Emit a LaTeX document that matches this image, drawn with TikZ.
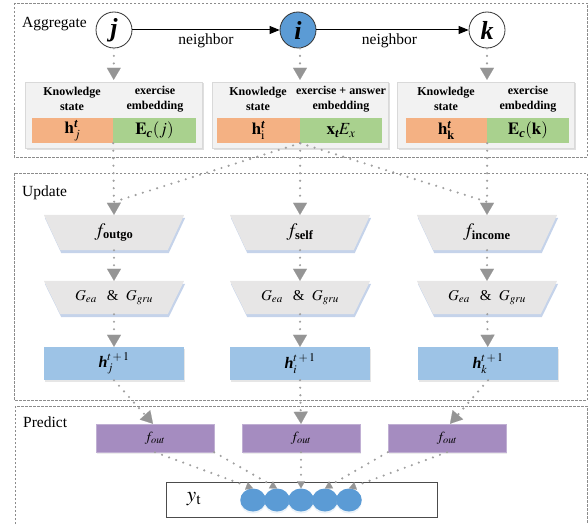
\documentclass[tikz,border=0pt]{standalone}
\usepackage{mathptmx}
\usepackage{amsmath}
\usepackage[no-math]{fontspec}
\setmainfont{Liberation Serif}
\usetikzlibrary{arrows.meta,shadows,backgrounds,calc,shapes.geometric}
\definecolor{orangec}{HTML}{F4B183}
\definecolor{greenc}{HTML}{A9D18E}
\definecolor{hblue}{HTML}{9DC3E6}
\definecolor{cblue}{HTML}{5B9BD5}
\definecolor{purp}{HTML}{A58CC0}
\definecolor{trapc}{HTML}{E7E6E6}
\definecolor{trapsh}{HTML}{C5D3EA}
\definecolor{boxc}{HTML}{F2F2F2}
\definecolor{dotc}{HTML}{A0A0A0}
\definecolor{tric}{HTML}{959595}
\begin{document}
\begin{tikzpicture}[x=1pt,y=-1pt,
  panel/.style={draw=black!45, dash pattern=on 2.5pt off 1.5pt, line width=0.6pt},
  lbl/.style={font=\fontsize{15.5}{16}\selectfont, anchor=base west, inner sep=0},
  vert/.style={circle, minimum size=36pt, inner sep=0, draw=black!80, line width=0.8pt, font=\fontsize{26}{26}\selectfont\bfseries\itshape},
  nbr/.style={font=\fontsize{15.5}{16}\selectfont, inner sep=0},
  edgearr/.style={line width=1pt, -{Triangle[length=10pt,width=8pt]}},
  dots/.style={draw=dotc, line width=2.4pt, line cap=round, dash pattern=on 0pt off 7.5pt},
  bigtip/.style={-{Triangle[length=12pt,width=14pt,color=tric,line width=0.1pt]}},
  smalltip/.style={-{Triangle[length=7pt,width=8pt,color=tric,line width=0.1pt]}},
  aggbox/.style={draw=black!15, fill=boxc, minimum width=177pt, minimum height=66pt, inner sep=0, drop shadow={shadow xshift=1.5pt, shadow yshift=-1.5pt, opacity=0.25}},
  cell/.style={minimum height=25pt, inner sep=0, font=\fontsize{17}{17}\selectfont},
  hdr/.style={align=center, font=\fontsize{12}{15}\selectfont\bfseries, inner sep=0},
  trapn/.style={minimum width=140pt, inner sep=0},
  gtxt/.style={font=\fontsize{15}{15}\selectfont},
  hbox/.style={fill=hblue, minimum width=140pt, minimum height=33pt, inner sep=0, font=\fontsize{16}{16}\selectfont, drop shadow={shadow xshift=1pt, shadow yshift=-1.5pt, opacity=0.2}},
  fout/.style={fill=purp, draw=purp!70, minimum width=118pt, minimum height=28pt, inner sep=0, font=\fontsize{14}{14}\selectfont, drop shadow={shadow xshift=1pt, shadow yshift=-1.5pt, opacity=0.15}},
  ycirc/.style={ellipse, fill=cblue, minimum width=25.5pt, minimum height=23pt, inner sep=0, drop shadow={shadow xshift=0pt, shadow yshift=-2pt, opacity=0.25, fill=cblue!50}}
]
\useasboundingbox (0,0) rectangle (588,524);
% panels
\draw[panel] (14,3) rectangle (587,157);
\draw[panel] (14,173) rectangle (587,400);
\draw[panel] (15,524) -- (15,406) -- (587,406) -- (587,524);
\node[lbl] (agg) at (22,28) {Aggregate};
\node[lbl] (upd) at (22,196) {Update};
\node[lbl] (pre) at (23,427) {Predict};
% graph
\node[vert] (j) at (114,30) {j};
\node[vert, fill=cblue] (i) at (298,30) {i};
\node[vert] (k) at (487,30) {k};
\draw[edgearr] (j) -- (i) node[midway, below=3pt, nbr] (n1) {neighbor};
\draw[edgearr] (i) -- (k) node[midway, below=3pt, nbr, xshift=-3pt] (n2) {neighbor};
% aggregate boxes
\node[aggbox] (bj) at (113.5,115) {};
\node[aggbox, minimum width=176pt] (bi) at (300,115) {};
\node[aggbox] (bk) at (485.5,115) {};
\node[cell, fill=orangec, minimum width=81pt] (oj) at (72.5,130.5) {$\mathbf{h}_{j}^{\text{\bfseries\itshape t}}$};
\node[cell, fill=greenc, minimum width=83pt] (gj) at (154.5,130.5) {$\mathbf{E}_{\text{\bfseries\itshape c}}(j)$};
\node[cell, fill=orangec, minimum width=83pt] (oi) at (258.5,130.5) {$\mathbf{h}_{\mathrm{i}}^{\text{\bfseries\itshape t}}$};
\node[cell, fill=greenc, minimum width=82pt] (gi) at (341,130.5) {$\mathbf{x}_{\text{\bfseries\itshape t}}E_x$};
\node[cell, fill=orangec, minimum width=81pt] (ok) at (446.5,130.5) {$\mathbf{h}_{\mathbf{k}}^{\text{\bfseries\itshape t}}$};
\node[cell, fill=greenc, minimum width=82pt] (gk) at (528,130.5) {$\mathbf{E}_{\text{\bfseries\itshape c}}(\mathbf{k})$};
\node[hdr] (kj) at (72,99) {Knowledge\\state};
\node[hdr] (ej) at (155,99) {exercise\\embedding};
\node[hdr] (ki) at (258,99) {Knowledge\\state};
\node[hdr] (ei) at (341,99) {exercise + answer\\embedding};
\node[hdr] (kk) at (446,99) {Knowledge\\state};
\node[hdr] (ek) at (528,99) {exercise\\embedding};
\draw[dots, bigtip, shorten >=2pt] (j) -- (bj);
\draw[dots, bigtip, shorten >=2pt] (i.south -| bi.north) -- (bi);
\draw[dots, bigtip, shorten >=2pt] (k) -- (bk.north -| k);
% update nodes
\node[trapn, minimum height=35pt] (fo) at (114,232.5) {\fontsize{19}{19}\selectfont$f_{\text{\fontsize{12.5}{12.5}\selectfont\bfseries outgo}}$};
\node[trapn, minimum height=35pt] (fs) at (300,232.5) {\fontsize{19}{19}\selectfont$f_{\text{\fontsize{12.5}{12.5}\selectfont\bfseries self}}$};
\node[trapn, minimum height=35pt] (fi) at (487,232.5) {\fontsize{19}{19}\selectfont$f_{\text{\fontsize{12.5}{12.5}\selectfont\bfseries income}}$};
\node[trapn, minimum height=33pt, gtxt] (ga) at (114,297.5) {$G_{ea}$ \ \,\& \ $G_{gru}$};
\node[trapn, minimum height=33pt, gtxt] (gb) at (300,297.5) {$G_{ea}$ \ \,\& \ $G_{gru}$};
\node[trapn, minimum height=33pt, gtxt] (gc) at (487,297.5) {$G_{ea}$ \ \,\& \ $G_{gru}$};
\begin{pgfonlayer}{background}
\foreach \n in {fo,fs,fi,ga,gb,gc}{
  \fill[trapsh] ($(\n.north west)+(1,3)$) -- ($(\n.north east)+(1,3)$) -- ($(\n.south east)+(-15.5,3)$) -- ($(\n.south west)+(17.5,3)$) -- cycle;
  \fill[trapc] (\n.north west) -- (\n.north east) -- ($(\n.south east)+(-16.5,0)$) -- ($(\n.south west)+(16.5,0)$) -- cycle;
}
\end{pgfonlayer}
\node[hbox] (ha) at (114,363.5) {$\text{\bfseries\itshape h}_{j}^{t\,+\,1}$};
\node[hbox] (hb) at (300,363.5) {$\text{\bfseries\itshape h}_{i}^{t\,+\,1}$};
\node[hbox] (hc) at (488,363.5) {$\text{\bfseries\itshape h}_{k}^{t\,+\,1}$};
\coordinate (fotop) at ($(fo.north)+(0,-13)$);
\coordinate (fitop) at ($(fi.north)+(0,-13)$);
\draw[dots] (oi.south east) -- (fotop);
\draw[dots] (oi.south east) -- (fitop);
\draw[dots, bigtip] (oj.south east) -- (fo.north);
\draw[dots, bigtip] (oi.south east) -- (fs.north);
\draw[dots, bigtip] (ok.south east) -- (fi.north);
\draw[dots, bigtip] (fo) -- (ga);
\draw[dots, bigtip] (fs) -- (gb);
\draw[dots, bigtip] (fi) -- (gc);
\draw[dots, bigtip] (ga) -- (ha);
\draw[dots, bigtip] (gb) -- (hb);
\draw[dots, bigtip] (gc) -- (hc);
% predict
\node[fout] (o1) at (155,438) {$f_{out}$};
\node[fout] (o2) at (301,438) {$f_{out}$};
\node[fout] (o3) at (447,438) {$f_{out}$};
\draw[dots, bigtip] (ha.south) -- ($(o1.north)+(-2,0)$);
\draw[dots, bigtip] (hb.south) -- (o2.north);
\draw[dots, bigtip] (hc.south) -- ($(o3.north)+(3,0)$);
\node[draw=black!70, line width=0.8pt, fill=white, minimum width=271pt, minimum height=35pt, inner sep=0] (yt) at (301.5,499.5) {};
\node[font=\fontsize{21}{21}\selectfont, inner sep=0] (ylab) at (194,499) {$y_{\mathrm{t}}$};
\node[ycirc] (c1) at (253,500) {};
\node[ycirc] (c2) at (277,500) {};
\node[ycirc] (c3) at (301,500) {};
\node[ycirc] (c4) at (325,500) {};
\node[ycirc] (c5) at (349,500) {};
\draw[dots, smalltip] (o1.south) -- (c1.north);
\draw[dots, smalltip] (o1.south east) -- (c2.north);
\draw[dots, smalltip] (o2.south) -- (c3.north);
\draw[dots, smalltip] (o3.south west) -- (c4.north);
\draw[dots, smalltip] (o3.south) -- (c5.north);
\end{tikzpicture}
\end{document}
